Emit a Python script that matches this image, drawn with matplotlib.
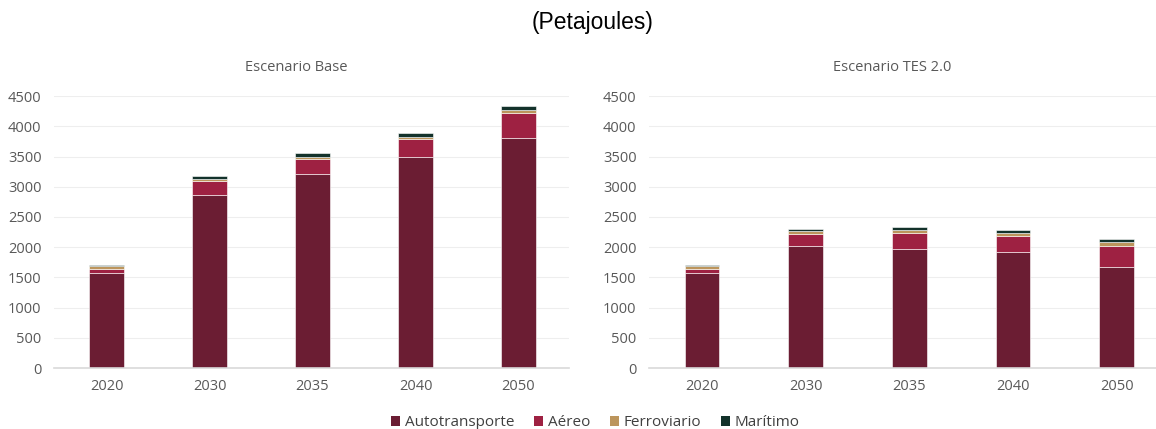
import matplotlib
matplotlib.use("Agg")
import matplotlib.pyplot as plt
import numpy as np
from matplotlib.patches import Patch

years = ["2020", "2030", "2035", "2040", "2050"]
series = ["Autotransporte", "Aéreo", "Ferroviario", "Marítimo"]
colors = ["#6B1D33", "#9E2142", "#BC955C", "#13322B"]

base_auto = [1567, 2871, 3206, 3487, 3806]
base_aereo = [72, 225, 253, 302, 412]
base_ferro = [44, 28, 39, 28, 50]
base_marit = [17, 55, 55, 66, 60]

tes_auto = [1567, 2020, 1971, 1922, 1669]
tes_aereo = [72, 192, 258, 263, 357]
tes_ferro = [44, 50, 55, 44, 66]
tes_marit = [17, 33, 44, 50, 38]

fig = plt.figure(figsize=(11.56, 4.29), dpi=100)
fig.text(0.513, 0.948, "(Petajoules)", ha="center", va="center",
         fontsize=16.5, family="Liberation Sans", color="#000000")

def draw(ax, data, title, xmax, title_x):
    x = np.arange(len(years))
    bottom = np.zeros(len(years))
    for vals, c in zip(data, colors):
        ax.bar(x, vals, bottom=bottom, width=0.335, color=c,
               edgecolor="white", linewidth=0.4)
        bottom += np.array(vals)
    ax.set_ylim(0, 4500)
    ax.set_yticks(range(0, 4501, 500))
    ax.set_xlim(-0.51, xmax)
    ax.set_xticks(x)
    ax.set_xticklabels(years)
    ax.grid(axis="y", color="#eeeeee", linewidth=0.8)
    ax.set_axisbelow(True)
    for s in ["top", "right", "left"]:
        ax.spines[s].set_visible(False)
    ax.spines["bottom"].set_color("#d9d9d9")
    ax.spines["bottom"].set_linewidth(1.2)
    ax.tick_params(axis="both", length=0, labelsize=10.5, labelcolor="#595959")
    ax.tick_params(axis="x", pad=8)
    ax.tick_params(axis="y", pad=9)
    for lab in ax.get_xticklabels() + ax.get_yticklabels():
        lab.set_family("Open Sans")
    ax.text(title_x, 1.105, title, transform=ax.transAxes, ha="center",
            va="center", fontsize=10.5, color="#595959", family="Open Sans")

ax1 = fig.add_axes([54 / 1156, 0.142, 515 / 1156, 0.634])
draw(ax1, [base_auto, base_aereo, base_ferro, base_marit],
     "Escenario Base", 4.49, 0.47)
ax2 = fig.add_axes([649 / 1156, 0.142, 507 / 1156, 0.634])
draw(ax2, [tes_auto, tes_aereo, tes_ferro, tes_marit],
     "Escenario TES 2.0", 4.38, 0.479)

handles = [Patch(facecolor=c) for c in colors]
fig.legend(handles, series, loc="center", bbox_to_anchor=(0.515, 0.015),
           ncol=4, frameon=False, handlelength=0.6, handleheight=0.6,
           handletextpad=0.3, columnspacing=1.3,
           prop={"family": "Open Sans", "size": 11})
for t in fig.legends[0].get_texts():
    t.set_color("#404040")

fig.savefig("out.png", dpi=100)
